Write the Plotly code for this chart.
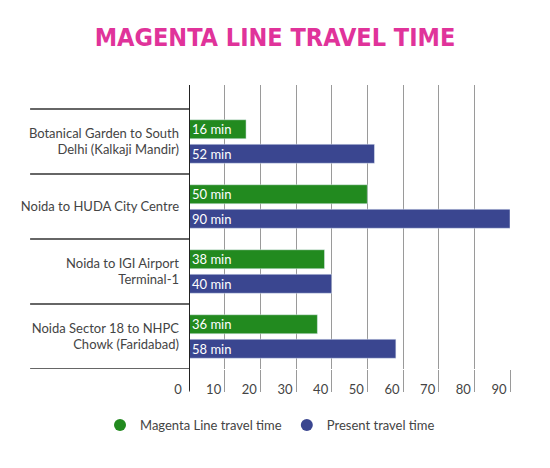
import plotly.graph_objects as go

categories = ["Botanical Garden to South<br>Delhi (Kalkaji Mandir)",
              "Noida to HUDA City Centre",
              "Noida to IGI Airport<br>Terminal-1",
              "Noida Sector 18 to NHPC<br>Chowk (Faridabad)"]
magenta_line = [16, 50, 38, 36]
present = [52, 90, 40, 58]
series_names = ["Magenta Line travel time", "Present travel time"]
tick_vals = [0, 10, 20, 30, 40, 50, 60, 70, 80, 90]

GREEN = "#228a1f"
BLUE = "#3a4690"
FONT = "Lato"

fig = go.Figure()
for vals, color in [(magenta_line, GREEN), (present, BLUE)]:
    fig.add_trace(go.Bar(
        y=categories, x=vals, orientation="h", marker_color=color,
        text=[f"{v} min" for v in vals], textposition="inside",
        insidetextanchor="start", textangle=0,
        textfont=dict(color="white", size=13, family=FONT),
        showlegend=False, hoverinfo="skip"))

for name, color in zip(series_names, [GREEN, BLUE]):
    fig.add_trace(go.Scatter(x=[None], y=[None], mode="markers", name=name,
                             marker=dict(symbol="circle", size=15, color=color)))

shapes = []
for yy in [-0.5, 0.5, 1.5, 2.5, 3.5]:
    shapes.append(dict(type="line", xref="paper", yref="y", x0=-0.495, x1=0,
                       y0=yy, y1=yy, line=dict(color="#333", width=1.5)))
shapes.append(dict(type="line", xref="x", yref="paper", x0=0, x1=0, y0=1, y1=-0.077,
                   line=dict(color="#222", width=2)))

fig.update_layout(
    width=550, height=468,
    margin=dict(l=189, r=40, t=85, b=99),
    paper_bgcolor="white", plot_bgcolor="white",
    barmode="group", bargap=0.246, bargroupgap=0.224,
    uniformtext=dict(minsize=13, mode="show"),
    font=dict(family=FONT, color="#444", size=13),
    title=dict(text="<b>MAGENTA LINE TRAVEL TIME</b>", x=0.5, xref="container",
               xanchor="center", y=1 - 37 / 468, yref="container", yanchor="middle",
               font=dict(family="DejaVu Sans Condensed, Roboto", size=25, color="#e0339a")),
    xaxis=dict(range=[0, 90], tickvals=tick_vals, showgrid=True, gridcolor="#9a9a9a",
               gridwidth=1, zeroline=False, ticks="outside", ticklen=22,
               tickcolor="#9a9a9a", tickwidth=1, ticklabelshift=-11,
               ticklabelstandoff=-14, tickfont=dict(size=13, color="#444"),
               showline=False, fixedrange=True),
    yaxis=dict(range=[3.5, -0.5 - 24 / 65], showgrid=False, zeroline=False,
               ticks="", ticklabelstandoff=9, tickfont=dict(size=13, color="#444"),
               showline=False),
    shapes=shapes,
    legend=dict(orientation="h", xref="paper", yref="paper",
                x=(100 - 189) / 321, xanchor="left", y=-(425 - 369) / 284,
                yanchor="middle", font=dict(size=13, color="#444"),
                itemsizing="constant"),
)

fig.write_html("out.html")
